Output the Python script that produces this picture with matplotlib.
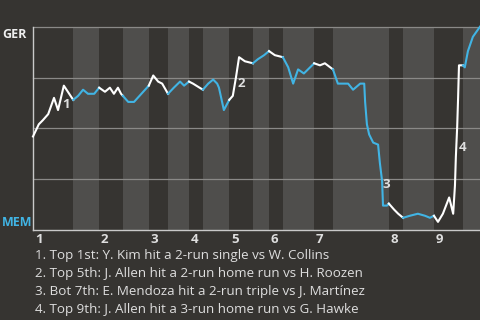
import numpy as np
import matplotlib
matplotlib.use("Agg")
import matplotlib.pyplot as plt
from matplotlib.transforms import blended_transform_factory

plt.rcParams['font.family'] = ['Open Sans', 'DejaVu Sans']

# play position (0-100 across the game) and GER win probability
play_x = [0, 1.3, 2.2, 3.4, 4.7, 5.6, 6.9, 9.0,
          10.1, 11.2, 12.3, 13.7, 14.8,
          16.1, 17.2, 18.1, 19.0, 19.7, 20.1,
          21.3, 22.6, 25.9,
          26.9, 28.0, 28.9, 30.2,
          31.5, 32.9, 33.8, 34.9,
          35.8, 38.0,
          39.2, 40.3, 41.2, 41.6, 42.7, 43.9,
          44.7, 45.4, 46.1, 47.4, 49.2,
          50.3, 51.7, 52.8,
          54.1, 55.9,
          57.1, 58.2, 59.3, 60.6, 62.9,
          64.2, 65.3, 67.1,
          68.2, 70.5, 71.6, 73.2, 74.1, 74.3, 74.7, 75.2, 76.1, 77.2, 77.6,
          78.1, 78.3, 79.2, 79.6,
          80.8, 81.7, 82.8,
          84.3, 86.1, 87.7, 88.8, 89.7,
          90.6, 91.7, 93.1, 94.0, 94.4, 94.6, 94.9, 95.1, 95.3, 96.2,
          96.6, 97.3, 98.4, 100]
ger_prob = [0.46, 0.52, 0.54, 0.57, 0.65, 0.59, 0.71, 0.64,
            0.66, 0.69, 0.67, 0.67, 0.70,
            0.68, 0.70, 0.67, 0.70, 0.67, 0.66,
            0.63, 0.63, 0.71,
            0.76, 0.73, 0.72, 0.67,
            0.70, 0.73, 0.71, 0.73,
            0.72, 0.69,
            0.72, 0.74, 0.72, 0.70, 0.59, 0.64,
            0.66, 0.75, 0.85, 0.83, 0.82,
            0.84, 0.86, 0.88,
            0.86, 0.85,
            0.80, 0.72, 0.79, 0.77, 0.82,
            0.81, 0.82, 0.79,
            0.72, 0.72, 0.69, 0.72, 0.72, 0.63, 0.52, 0.47, 0.43, 0.42, 0.33,
            0.24, 0.12, 0.12, 0.13,
            0.10, 0.08, 0.06,
            0.07, 0.08, 0.07, 0.06, 0.07,
            0.04, 0.08, 0.16, 0.08, 0.22, 0.36, 0.51, 0.65, 0.81, 0.81,
            0.80, 0.88, 0.95, 1.0]

# start of each half-inning (top 1st ... bottom 9th) and game end
half_starts = [0, 9.0, 14.8, 20.1, 25.9, 30.2, 34.9, 38.0, 43.9, 49.2,
               52.8, 55.9, 62.9, 67.1, 79.6, 82.8, 89.7, 96.2, 100]
innings = ['1', '2', '3', '4', '5', '6', '7', '8', '9']

events = ['1. Top 1st: Y. Kim hit a 2-run single vs W. Collins',
          '2. Top 5th: J. Allen hit a 2-run home run vs H. Roozen',
          '3. Bot 7th: E. Mendoza hit a 2-run triple vs J. Martínez',
          '4. Top 9th: J. Allen hit a 3-run home run vs G. Hawke']
event_labels = ['1', '2', '3', '4']

BG = '#363431'
BAND = '#4f4e4c'
BLUE = '#41b4e4'
WHITE = '#ffffff'
TXT = '#dedede'

x = np.array(play_x)
y = np.array(ger_prob)

fig = plt.figure(figsize=(4.8, 3.2), dpi=100, facecolor=BG)
ax = fig.add_axes([33 / 480, 90 / 320, 447 / 480, 203.3 / 320])
ax.set_facecolor(BG)
ax.set_xlim(0, 100)
ax.set_ylim(0, 1)

for k in range(len(half_starts) - 1):
    if k % 2 == 1:
        ax.axvspan(half_starts[k], half_starts[k + 1], color=BAND, lw=0, zorder=0)
    m = (x >= half_starts[k]) & (x <= half_starts[k + 1])
    ax.plot(x[m], y[m], color=WHITE if k % 2 == 0 else BLUE, lw=1.5,
            zorder=3, clip_on=False)

for g in [0.25, 0.5, 0.75, 1.0]:
    ax.axhline(g, color='#8a8987', lw=0.9, zorder=1, clip_on=False)

for s in ['top', 'right']:
    ax.spines[s].set_visible(False)
for s in ['left', 'bottom']:
    ax.spines[s].set_color('#c9c9c9')
    ax.spines[s].set_linewidth(1.0)
ax.set_xticks([])
ax.set_yticks([])

# inning numbers under the axis
tr = blended_transform_factory(ax.transData, fig.transFigure)
for i, lab in enumerate(innings):
    ax.text(half_starts[2 * i] + 0.4, 1 - 243 / 320, lab, transform=tr,
            ha='left', va='baseline', color=TXT, fontsize=9.5,
            fontweight='bold')

# event markers on the line
for lab, (tx, ty) in zip(event_labels, [(7.4, 0.615), (46.5, 0.723),
                                        (79.0, 0.226), (96.0, 0.408)]):
    ax.text(tx, ty, lab, ha='center', va='center', color=TXT, fontsize=9.5,
            fontweight='bold', zorder=4)

fig.text(2 / 480, 1 - 38 / 320, 'GER', ha='left', va='baseline', color='#eeeeee',
         fontsize=9, fontweight='bold')
fig.text(2 / 480, 1 - 226 / 320, 'MEM', ha='left', va='baseline', color=BLUE,
         fontsize=9, fontweight='bold')

for i, line in enumerate(events):
    fig.text(35 / 480, 1 - (259 + 18 * i) / 320, line, ha='left', va='baseline',
             color=TXT, fontsize=9.6)

fig.savefig('out.png', dpi=100, facecolor=BG)
